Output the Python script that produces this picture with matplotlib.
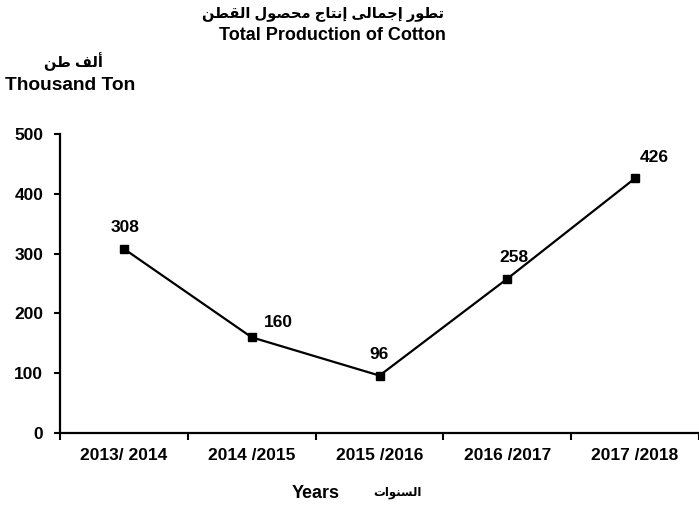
import matplotlib
matplotlib.use("Agg")
import matplotlib.pyplot as plt

plt.rcParams['font.family'] = ['Liberation Sans', 'DejaVu Sans']
plt.rcParams['font.weight'] = 'bold'

# Data
seasons = ["2013/ 2014", "2014 /2015", "2015 /2016", "2016 /2017", "2017 /2018"]
production = [308, 160, 96, 258, 426]

# Arabic texts (logical order, shaped below since matplotlib has no bidi/shaping)
title_ar = "تطور إجمالى إنتاج محصول القطن"
ylabel_ar = "ألف طن"
xlabel_ar = "السنوات"

# presentation forms: isolated, final, initial, medial
FORMS = {
    'ا': ('\uFE8D', '\uFE8E', None, None),
    'أ': ('\uFE83', '\uFE84', None, None),
    'إ': ('\uFE87', '\uFE88', None, None),
    'ر': ('\uFEAD', '\uFEAE', None, None),
    'و': ('\uFEED', '\uFEEE', None, None),
    'ى': ('\uFEEF', '\uFEF0', None, None),
    'ت': ('\uFE95', '\uFE96', '\uFE97', '\uFE98'),
    'ج': ('\uFE9D', '\uFE9E', '\uFE9F', '\uFEA0'),
    'ح': ('\uFEA1', '\uFEA2', '\uFEA3', '\uFEA4'),
    'س': ('\uFEB1', '\uFEB2', '\uFEB3', '\uFEB4'),
    'ص': ('\uFEB9', '\uFEBA', '\uFEBB', '\uFEBC'),
    'ط': ('\uFEC1', '\uFEC2', '\uFEC3', '\uFEC4'),
    'ف': ('\uFED1', '\uFED2', '\uFED3', '\uFED4'),
    'ق': ('\uFED5', '\uFED6', '\uFED7', '\uFED8'),
    'ل': ('\uFEDD', '\uFEDE', '\uFEDF', '\uFEE0'),
    'م': ('\uFEE1', '\uFEE2', '\uFEE3', '\uFEE4'),
    'ن': ('\uFEE5', '\uFEE6', '\uFEE7', '\uFEE8'),
}


def shape_ar(text):
    out = []
    for c_idx, c in enumerate(text):
        if c not in FORMS:
            out.append(c)
            continue
        prev = text[c_idx - 1] if c_idx > 0 else ''
        nxt = text[c_idx + 1] if c_idx + 1 < len(text) else ''
        joins_prev = prev in FORMS and FORMS[prev][2] is not None
        joins_next = FORMS[c][2] is not None and nxt in FORMS
        iso, fin, ini, med = FORMS[c]
        if joins_prev and joins_next:
            out.append(med)
        elif joins_prev:
            out.append(fin)
        elif joins_next:
            out.append(ini)
        else:
            out.append(iso)
    return ''.join(reversed(out))


# label offsets in points (dx, dy) from each marker
label_offsets = [(1, 15), (19, 11), (0, 15), (5, 15), (14, 15)]

fig = plt.figure(figsize=(6.99, 5.08), dpi=100)
ax = fig.add_axes([60 / 699, 75 / 508, 639 / 699, 299 / 508])

x = list(range(len(seasons)))
ax.plot(x, production, color='black', linewidth=1.6, marker='s',
        markersize=6, markerfacecolor='black', markeredgecolor='black',
        clip_on=False)

for xi, v, off in zip(x, production, label_offsets):
    ax.annotate(str(v), (xi, v), xytext=off, textcoords='offset points',
                ha='center', va='center', fontsize=12.5, fontweight='bold')

ax.set_xlim(-0.5, 4.453)
ax.set_ylim(0, 500)
ax.set_yticks([0, 100, 200, 300, 400, 500])
ax.set_xticks([i + 0.5 for i in range(-1, 5)], minor=False)
ax.set_xticklabels([])
ax.set_xticks(x, minor=True)
ax.set_xticklabels(seasons, minor=True)
ax.tick_params(axis='x', which='minor', length=0, pad=11, labelsize=12.5)
ax.tick_params(axis='x', which='major', length=5, width=1.5, direction='out')
ax.tick_params(axis='y', length=4, width=1.5, direction='out', labelsize=12.5, pad=8)
for lbl in ax.get_yticklabels() + ax.get_xticklabels(minor=True):
    lbl.set_fontweight('bold')

for side in ['top', 'right']:
    ax.spines[side].set_visible(False)
for side in ['left', 'bottom']:
    ax.spines[side].set_linewidth(1.6)

# titles and axis labels
fig.text(323 / 699, 1 - 14 / 508, shape_ar(title_ar), ha='center', va='center',
         fontsize=10.5, fontweight='bold')
fig.text(332 / 699, 1 - 36 / 508, "Total Production of Cotton", ha='center',
         va='center', fontsize=13, fontweight='bold')
fig.text(73 / 699, 1 - 62 / 508, shape_ar(ylabel_ar), ha='center', va='center',
         fontsize=10.5, fontweight='bold')
fig.text(70 / 699, 1 - 85 / 508, "Thousand Ton", ha='center', va='center',
         fontsize=13.8, fontweight='bold')
fig.text(316 / 699, 1 - 493 / 508, "Years", ha='center', va='center',
         fontsize=13, fontweight='bold')
fig.text(397 / 699, 1 - 493 / 508, shape_ar(xlabel_ar), ha='center', va='center',
         fontsize=8.5, fontweight='bold')

plt.savefig('out.png', dpi=100)
